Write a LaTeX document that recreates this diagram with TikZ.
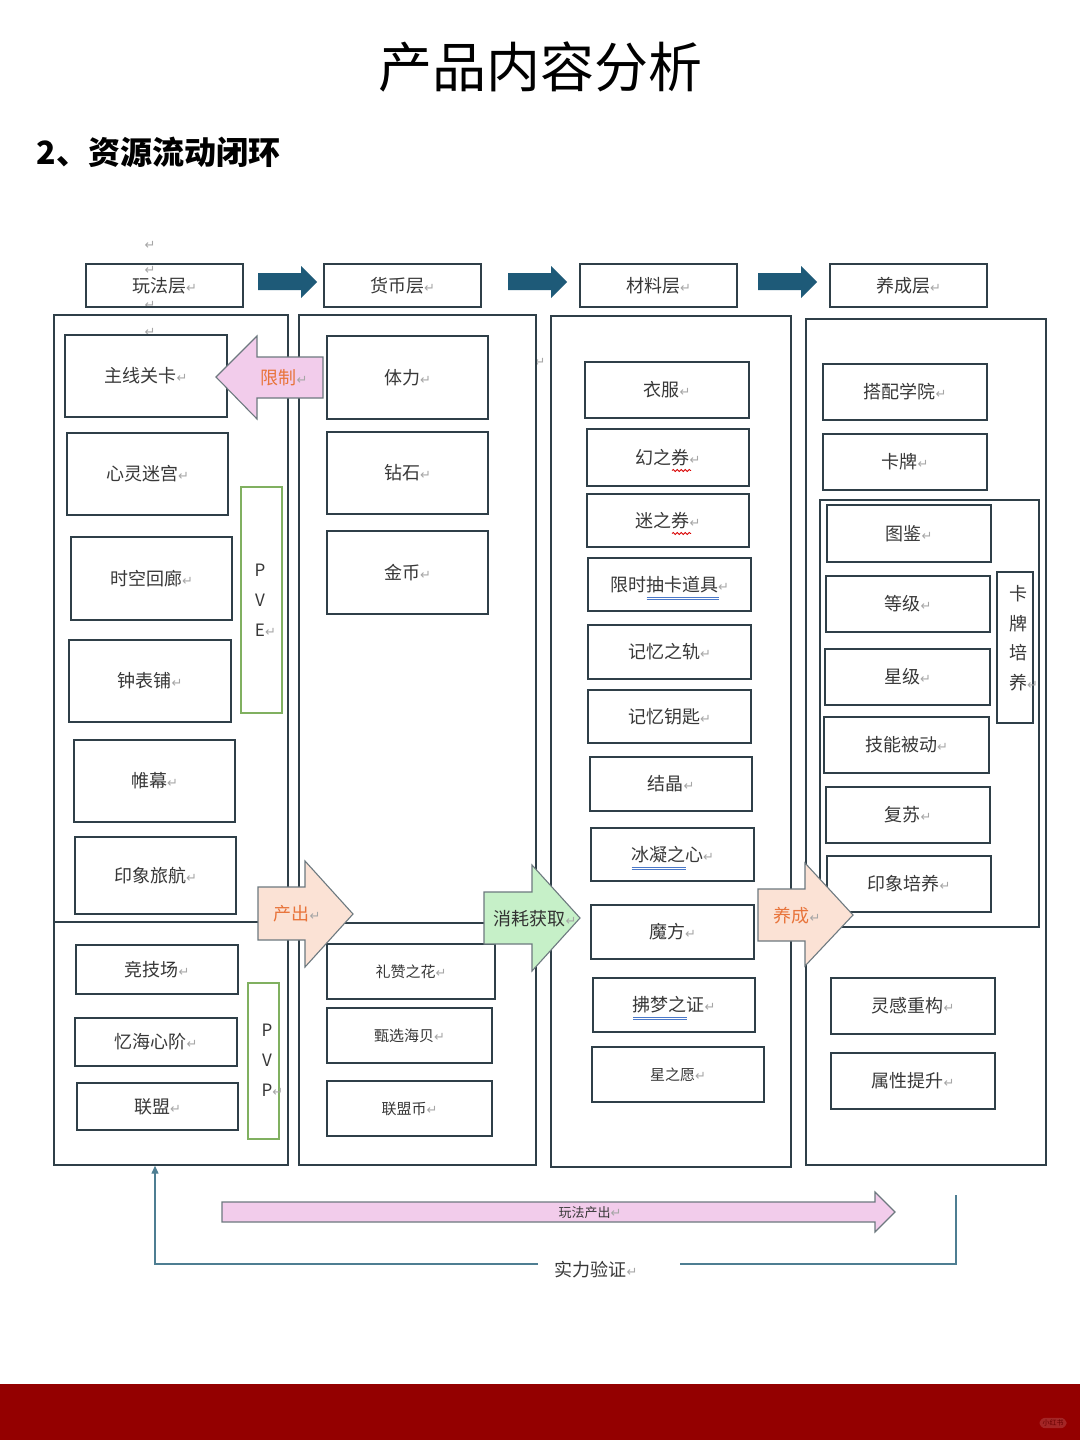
\documentclass[tikz,border=0pt]{standalone}
\usepackage{fontspec}
\setmainfont{Noto Sans CJK SC}
\newfontfamily\dvs{DejaVu Sans}
\usetikzlibrary{arrows.meta,decorations.pathmorphing}
\definecolor{bordc}{HTML}{2F3F48}
\definecolor{txtc}{HTML}{383838}
\definecolor{pvegreen}{HTML}{80B060}
\definecolor{tealarr}{HTML}{1E5A78}
\definecolor{pinkf}{HTML}{F2CCEB}
\definecolor{peachf}{HTML}{FBE2D5}
\definecolor{greenf}{HTML}{C6F0C8}
\definecolor{orangetxt}{HTML}{E8743B}
\definecolor{loopc}{HTML}{4E7E92}
\definecolor{bandred}{HTML}{940000}
\definecolor{ulblue}{HTML}{4A78C8}
\newcommand\pmk{{\dvs\fontsize{13}{13}\selectfont\color{gray!70}↵}}
\newcommand\bx[7][]{\node[box,#1,minimum width={(#5-#3)*1pt},minimum height={(#6-#4)*1pt}] (#2) at ({(#3+#5)/2},{(#4+#6)/2}) {#7};}
\newcommand\tarr[1]{\fill[tealarr] (#1,273) -- ({#1+43},273) -- ({#1+43},266) -- ({#1+59},282) -- ({#1+43},298) -- ({#1+43},290) -- (#1,290) -- cycle;}
\begin{document}
\begin{tikzpicture}[x=1pt,y=-1pt,
  box/.style={draw=bordc,line width=1.4pt,inner sep=0pt,text=txtc,font=\fontsize{18}{22}\selectfont},
  small/.style={font=\fontsize{15}{18}\selectfont},
  cont/.style={draw=bordc,line width=1.4pt,inner sep=0pt},
  pvbox/.style={draw=pvegreen,line width=1.4pt,inner sep=0pt},
  blk/.style={draw=bordc!70,line width=1.1pt},
  lbl/.style={font=\fontsize{18}{22}\selectfont,text=txtc,inner sep=0pt},
  stray/.style={inner sep=0pt},
  wave/.style={draw=red!85!black,line width=0.8pt,decorate,decoration={snake,amplitude=1.1pt,segment length=4pt}},
  dul/.style={draw=ulblue,line width=0.7pt}]
\useasboundingbox (0,0) rectangle (1080,1440);
\fill[white] (0,0) rectangle (1080,1440);
% titles
\node[font=\fontsize{54}{60}\selectfont] (title) at (540,67) {产品内容分析};
\node[anchor=west,font=\fontsize{32}{36}\selectfont\bfseries] (sub) at (33,152) {2、资源流动闭环};
% stray marks
\node[stray] (s1) at (150,245) {\pmk};
\node[stray] (s3) at (150,305) {\pmk};
\node[stray] (s4) at (150,332) {\pmk};
\node[stray] (s5) at (540,362) {\pmk};
% headers
\bx{hA}{86}{264}{243}{307}{玩法层\pmk}
\bx{hB}{324}{264}{481}{307}{货币层\pmk}
\bx{hC}{580}{264}{737}{307}{材料层\pmk}
\bx{hD}{830}{264}{987}{307}{养成层\pmk}
\node[stray] (s2) at (150,270) {\pmk};
\tarr{258}
\tarr{508}
\tarr{758}
% containers
\bx[cont]{cA}{54}{315}{288}{1165}{}
\bx[cont]{cB}{299}{315}{536}{1165}{}
\bx[cont]{cC}{551}{316}{791}{1167}{}
\bx[cont]{cD}{806}{319}{1046}{1165}{}
\bx[cont]{cK}{820}{500}{1039}{927}{}
\draw[bordc,line width=1.4pt] (cA.west |- 0,922) -- (cA.east |- 0,922);
\draw[bordc,line width=1.4pt] (cB.west |- 0,923) -- (cB.east |- 0,923);
% left column
\bx{zx}{65}{335}{227}{417}{主线关卡\pmk}
\bx{xl}{67}{433}{228}{515}{心灵迷宫\pmk}
\bx{sk}{71}{537}{232}{620}{时空回廊\pmk}
\bx{zb}{69}{640}{231}{722}{钟表铺\pmk}
\bx{wm}{74}{740}{235}{822}{帷幕\pmk}
\bx{yx}{75}{837}{236}{914}{印象旅航\pmk}
\bx{jj}{76}{945}{238}{994}{竞技场\pmk}
\bx{yh}{75}{1018}{237}{1066}{忆海心阶\pmk}
\bx{lm}{77}{1083}{238}{1130}{联盟\pmk}
\bx[pvbox]{pve}{241}{487}{282}{713}{}
\node[lbl,align=center,font=\fontsize{17}{30}\selectfont] (pveT) at (260,600) {P\\V\\E\rlap{\pmk}};
\bx[pvbox]{pvp}{248}{983}{279}{1139}{}
\node[lbl,align=center,font=\fontsize{17}{30}\selectfont] (pvpT) at (267,1060) {P\\V\\P\rlap{\pmk}};
% currency column
\bx{tl}{327}{336}{488}{419}{体力\pmk}
\bx{zs}{327}{432}{488}{514}{钻石\pmk}
\bx{jb}{327}{531}{488}{614}{金币\pmk}
\bx[small]{lz}{327}{944}{495}{999}{礼赞之花\pmk}
\bx[small]{zxh}{327}{1008}{492}{1063}{甄选海贝\pmk}
\bx[small]{lmb}{327}{1081}{492}{1136}{联盟币\pmk}
% material column
\bx{yf}{585}{362}{749}{418}{衣服\pmk}
\bx{hz}{587}{429}{749}{486}{幻之券\pmk}
\bx{mz}{587}{494}{749}{547}{迷之券\pmk}
\bx{xs}{588}{558}{751}{611}{限时抽卡道具\pmk}
\bx{jyg}{588}{625}{751}{679}{记忆之轨\pmk}
\bx{jys}{588}{690}{751}{743}{记忆钥匙\pmk}
\bx{jjing}{590}{757}{752}{811}{结晶\pmk}
\bx{bn}{591}{828}{754}{881}{冰凝之心\pmk}
\bx{mf}{591}{905}{754}{959}{魔方\pmk}
\bx{fm}{593}{978}{755}{1032}{拂梦之证\pmk}
\bx[small]{xzy}{592}{1047}{764}{1102}{星之愿\pmk}
% underlines (spell-check marks)
\draw[wave] ([xshift=4pt,yshift=-13pt]hz.center) -- ++(19,0);
\draw[wave] ([xshift=4pt,yshift=-13pt]mz.center) -- ++(19,0);
\draw[dul] ([xshift=-23pt,yshift=-12.5pt]xs.center) -- ++(72,0);
\draw[dul] ([xshift=-23pt,yshift=-14.5pt]xs.center) -- ++(72,0);
\draw[dul] ([xshift=-41pt,yshift=-12.5pt]bn.center) -- ++(54,0);
\draw[dul] ([xshift=-41pt,yshift=-14.5pt]bn.center) -- ++(54,0);
\draw[dul] ([xshift=-41pt,yshift=-12.5pt]fm.center) -- ++(54,0);
\draw[dul] ([xshift=-41pt,yshift=-14.5pt]fm.center) -- ++(54,0);
% growth column
\bx{dp}{823}{364}{987}{420}{搭配学院\pmk}
\bx{kp}{823}{434}{987}{490}{卡牌\pmk}
\bx{tj}{827}{505}{991}{562}{图鉴\pmk}
\bx{dj}{826}{576}{990}{632}{等级\pmk}
\bx{xj}{825}{649}{990}{705}{星级\pmk}
\bx{jn}{824}{717}{989}{773}{技能被动\pmk}
\bx{fs}{826}{787}{990}{843}{复苏\pmk}
\bx{yxp}{827}{856}{991}{912}{印象培养\pmk}
\bx{lg}{831}{978}{995}{1034}{灵感重构\pmk}
\bx{sx}{831}{1053}{995}{1109}{属性提升\pmk}
\bx{kpv}{997}{572}{1033}{723}{}
\node[lbl,align=center,font=\fontsize{18}{29.5}\selectfont] (kpvT) at (1018,638) {卡\\牌\\培\\养\rlap{\pmk}};
% block arrows
\filldraw[blk,fill=pinkf] (323,357) -- (257,357) -- (257,336) -- (216,377) -- (257,419) -- (257,398) -- (323,398) -- cycle;
\node[lbl,text=orangetxt] (xz) at (284,378) {限制\pmk};
\filldraw[blk,fill=peachf] (258,887) -- (305,887) -- (305,861) -- (353,914) -- (305,967) -- (305,940) -- (258,940) -- cycle;
\node[lbl,text=orangetxt] (cc) at (297,914) {产出\pmk};
\filldraw[blk,fill=greenf] (484,892) -- (532,892) -- (532,865) -- (580,918) -- (532,971) -- (532,944) -- (484,944) -- cycle;
\node[lbl,text=black!80] (xh) at (535,919) {消耗获取\pmk};
\filldraw[blk,fill=peachf] (758,889) -- (805,889) -- (805,863) -- (853,915) -- (805,966) -- (805,941) -- (758,941) -- cycle;
\node[lbl,text=orangetxt] (yc) at (797,916) {养成\pmk};
\filldraw[blk,fill=pinkf] (222,1202) -- (875,1202) -- (875,1192) -- (895,1212) -- (875,1232) -- (875,1222) -- (222,1222) -- cycle;
\node[lbl,font=\fontsize{13}{15}\selectfont] (wfcc) at (590,1213) {玩法产出\pmk};
% feedback loop
\node[lbl] (slyz) at (596,1270) {实力验证\pmk};
\coordinate (lpR) at (956,1195);
\draw[loopc,line width=1.3pt] (lpR) -- (956,1264) -- (680,1264);
\draw[loopc,line width=1.3pt,-{Triangle[width=7pt,length=8pt]}] (538,1264) -- (155,1264) -- (cA.south -| 155,0);
% bottom band
\fill[bandred] (0,1384) rectangle (1080,1440);
\node[fill=bandred!85!white,rounded corners=6pt,inner xsep=3pt,inner ysep=2pt,text=bandred!70!black,font=\fontsize{7}{8}\selectfont] (wmk) at (1053,1423) {小红书};
\end{tikzpicture}
\end{document}
